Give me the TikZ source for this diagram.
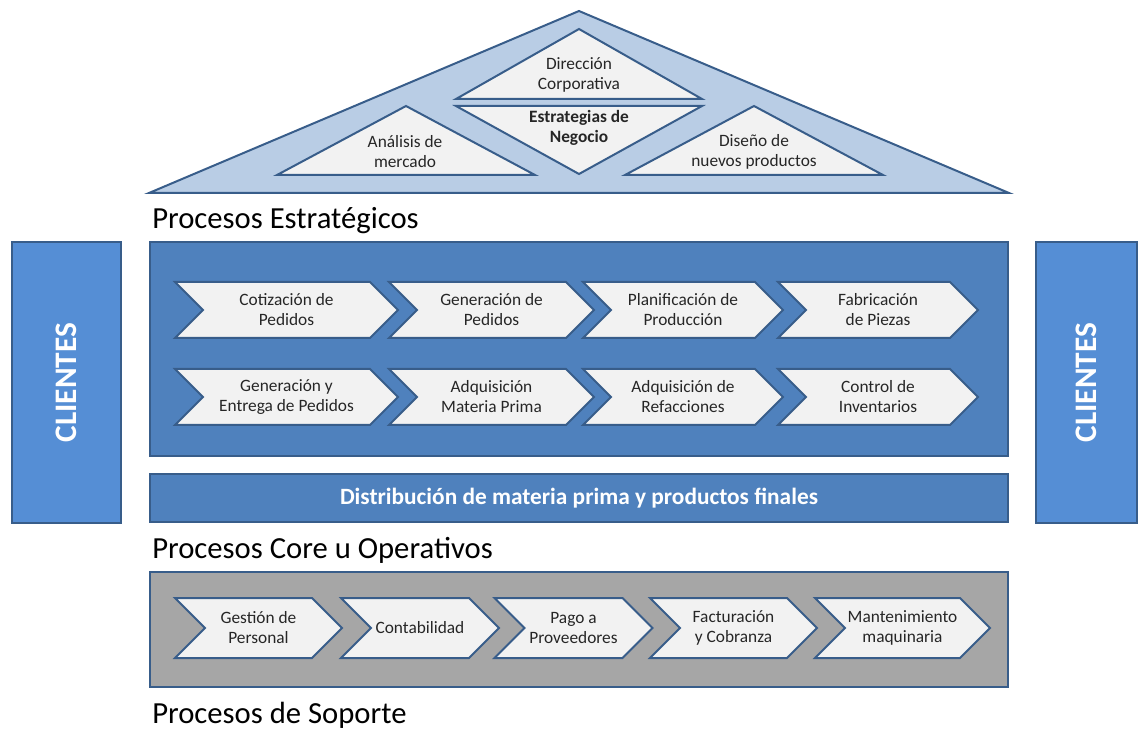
\documentclass[tikz,border=0pt]{standalone}
\usepackage{fontspec}
\setmainfont{Carlito}
\usepackage{tikz}
\usetikzlibrary{
    positioning,
    shapes.symbols
}

\definecolor{roofblue}{HTML}{B9CDE5}
\definecolor{lineblue}{HTML}{385D8A}
\definecolor{coreblue}{HTML}{4F81BD}
\definecolor{clientblue}{HTML}{558ED5}
\definecolor{paper}{HTML}{F2F2F2}
\definecolor{supportgray}{HTML}{A6A6A6}
\definecolor{ink}{HTML}{262626}

\newdimen\pxu
\pxu=0.75pt

\begin{document}
\begin{tikzpicture}[
    x=0.75pt, y=-0.75pt,
    roof/.style={draw=lineblue, fill=roofblue, line width=1.5pt},
    tri/.style={draw=lineblue, fill=paper, line width=1.5pt},
    trilab/.style={align=center, text=ink,
                   font=\fontsize{13}{15}\selectfont},
    chev/.style={signal, signal from=west, signal to=east,
                 signal pointer angle=90, draw=lineblue, fill=paper,
                 line width=1.5pt, inner sep=0pt, align=center, text=ink,
                 font=\fontsize{13}{15}\selectfont},
    corechev/.style={chev, minimum height=56\pxu},
    suppchev/.style={chev, minimum height=60\pxu},
    band/.style={draw=lineblue, line width=1.5pt, inner sep=0pt},
    clients/.style={band, fill=clientblue, text=white,
                    font=\fontsize{23.5}{25}\selectfont\bfseries},
    heading/.style={anchor=west, inner sep=0pt,
                    font=\fontsize{23}{26}\selectfont}
]
\useasboundingbox (0,0) rectangle (1138,730);

% =========================
% 1) ROOF: STRATEGIC PROCESSES
% =========================
\draw[roof] (149,193) -- (579,11) -- (1009,193) -- cycle;
\draw[tri] (579,29) -- (702,99) -- (456,99) -- cycle;
\draw[tri] (456,106) -- (702,106) -- (579,174) -- cycle;
\draw[tri] (406,106) -- (535,175) -- (277,175) -- cycle;
\draw[tri] (754,106) -- (883,175) -- (625,175) -- cycle;

\node[trilab] (dircorp) at (579,75)  {Dirección\\Corporativa};
\node[trilab, font=\fontsize{13}{15}\selectfont\bfseries]
      (estrat)  at (579,128) {Estrategias de\\Negocio};
\node[trilab] (analisis) at (405,152) {Análisis de\\mercado};
\node[trilab] (diseno)   at (754,152) {Diseño de\\nuevos productos};

\node[heading] (hestr) at (152,221) {Procesos Estratégicos};

% =========================
% 2) CORE PROCESSES
% =========================
\node[clients, minimum width=109\pxu, minimum height=281\pxu]
      (cliL) at (66.5,382.5) {\rotatebox{90}{CLIENTES}};
\node[clients, minimum width=101\pxu, minimum height=281\pxu]
      (cliR) at (1086.5,382.5) {\rotatebox{90}{CLIENTES}};

\node[band, fill=coreblue, minimum width=858\pxu, minimum height=214\pxu]
      (core) at (579,349) {};

\node[corechev, minimum width=223\pxu] (cotiz)  at (286.5,310) {Cotización de\\Pedidos};
\node[corechev, minimum width=205\pxu] (genped) at (491.5,310) {Generación de\\Pedidos};
\node[corechev, minimum width=200\pxu] (planif) at (683,310)   {Planificación de\\Producción};
\node[corechev, minimum width=200\pxu] (fabric) at (878,310)   {Fabricación\\de Piezas};

\node[corechev, minimum width=223\pxu] (entrega) at (286.5,397) {Generación y\\Entrega de Pedidos};
\node[corechev, minimum width=205\pxu] (matprim) at (491.5,397) {Adquisición\\Materia Prima};
\node[corechev, minimum width=200\pxu] (refacc)  at (683,397)   {Adquisición de\\Refacciones};
\node[corechev, minimum width=200\pxu] (invent)  at (878,397)   {Control de\\Inventarios};

\node[band, fill=coreblue, minimum width=858\pxu, minimum height=48\pxu,
      text=white, font=\fontsize{17.5}{20}\selectfont\bfseries]
      (distrib) at (579,498) {Distribución de materia prima y productos finales};

\node[heading] (hcore) at (152,550) {Procesos Core u Operativos};

% =========================
% 3) SUPPORT PROCESSES
% =========================
\node[band, fill=supportgray, minimum width=858\pxu, minimum height=115\pxu]
      (soporte) at (579,629.5) {};

\node[suppchev, minimum width=167\pxu] (personal) at (258.5,628) {Gestión de\\Personal};
\node[suppchev, minimum width=158\pxu] (contab)   at (420,628)   {Contabilidad};
\node[suppchev, minimum width=158\pxu] (pagoprov) at (573.5,628) {Pago a\\Proveedores};
\node[suppchev, minimum width=167\pxu] (factur)   at (733.5,628) {Facturación\\y Cobranza};
\node[suppchev, minimum width=175\pxu] (manten)   at (902.5,628) {Mantenimiento\\maquinaria};

\node[heading] (hsop) at (152,715) {Procesos de Soporte};

\end{tikzpicture}
\end{document}
